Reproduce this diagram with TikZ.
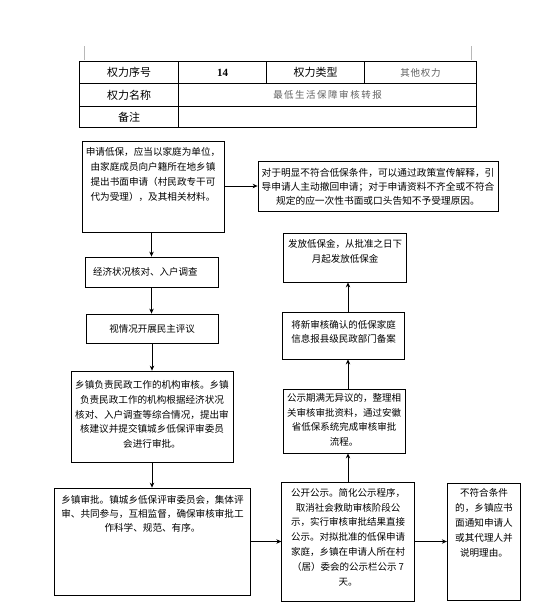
\documentclass[tikz,border=0pt]{standalone}
\usepackage{fontspec}
\usetikzlibrary{arrows.meta}
\newfontfamily\cjk{Noto Sans CJK SC}
\newfontfamily\tnr{Liberation Serif}
\begin{document}
\begin{tikzpicture}[x=1pt,y=-1pt,
  box/.style={draw=black, line width=0.8pt, fill=white, inner sep=0pt, rectangle},
  txt/.style={font=\cjk\fontsize{9.5}{14.5}\selectfont, align=center, inner sep=0pt, text=black},
  arr/.style={-{Stealth[length=5pt,width=4.5pt]}, line width=0.8pt},
  tl/.style={font=\cjk\fontsize{11}{13}\selectfont, inner sep=0pt},
  tg/.style={font=\cjk\fontsize{9.5}{12}\selectfont, inner sep=0pt, text=black!62},
  cornermark/.style={draw=black!28, line width=0.8pt}
]
\useasboundingbox (0,0) rectangle (551,616);
\fill[white] (0,0) rectangle (551,616);

% page corner marks
\coordinate (m1a) at (84,46); \coordinate (m1b) at (84,60);
\coordinate (m2a) at (471.5,46); \coordinate (m2b) at (471.5,60);
\draw[cornermark] (m1a) -- (m1b);
\draw[cornermark] (m2a) -- (m2b);

% table
\draw[line width=0.9pt] (79.5,61) rectangle (476.5,127.5);
\draw[line width=0.9pt] (79.5,83.5) -- (476.5,83.5);
\draw[line width=0.9pt] (79.5,106) -- (476.5,106);
\draw[line width=0.9pt] (178.5,61) -- (178.5,127.5);
\draw[line width=0.9pt] (266.5,61) -- (266.5,83.5);
\draw[line width=0.9pt] (364.5,61) -- (364.5,83.5);
\node[tl] (t11) at (129,72.5) {权力序号};
\node[inner sep=0pt, font=\tnr\bfseries\fontsize{11}{13}\selectfont] (t12) at (222.5,72.5) {14};
\node[tl] (t13) at (315.5,72.5) {权力类型};
\node[tg] (t14) at (420.5,72.5) {其\hspace{0.8pt}他\hspace{0.8pt}权\hspace{0.8pt}力};
\node[tl] (t21) at (129,95) {权力名称};
\node[tg] (t22) at (327.5,95) {最\hspace{1.5pt}低\hspace{1.5pt}生\hspace{1.5pt}活\hspace{1.5pt}保\hspace{1.5pt}障\hspace{1.5pt}审\hspace{1.5pt}核\hspace{1.5pt}转\hspace{1.5pt}报};
\node[tl] (t31) at (129,117) {备注};

% left column
\node[box, minimum width=142pt, minimum height=91pt] (b1) at (153,186.5) {};
\node[txt, font=\cjk\fontsize{9.6}{15}\selectfont] (b1t) at (153,174.5) {申请低保，应当以家庭为单位，\\由家庭成员向户籍所在地乡镇\\提出书面申请（村民政专干可\\代为受理），及其相关材料。};

\node[box, minimum width=240pt, minimum height=50pt] (b2) at (378,186) {};
\node[txt, font=\cjk\fontsize{9.7}{14}\selectfont] (b2t) at (378,187) {对于明显不符合低保条件，可以通过政策宣传解释，引\\导申请人主动撤回申请；对于申请资料不齐全或不符合\\规定的应一次性书面或口头告知不予受理原因。};

\node[box, minimum width=133pt, minimum height=30pt] (b3) at (151.5,272) {};
\node[txt, anchor=west] (b3t) at (93,272) {经济状况核对、入户调查};

\node[box, minimum width=132pt, minimum height=29pt] (b4) at (152,328.5) {};
\node[txt] (b4t) at (152,329) {视情况开展民主评议};

\node[box, minimum width=162pt, minimum height=91pt] (b5) at (152,416.5) {};
\node[txt, font=\cjk\fontsize{9.6}{14.6}\selectfont] (b5t) at (152,414.5) {乡镇负责民政工作的机构审核。乡镇\\负责民政工作的机构根据经济状况\\核对、入户调查等综合情况，提出审\\核建议并提交镇城乡低保评审委员\\会进行审批。};

\node[box, minimum width=196pt, minimum height=107pt] (b6) at (152.2,541.5) {};
\node[txt, font=\cjk\fontsize{9.6}{14}\selectfont] (b6t) at (152.5,514) {乡镇审批。镇城乡低保评审委员会，集体评\\审、共同参与，互相监督，确保审核审批工\\作科学、规范、有序。};

% middle column
\node[box, minimum width=132.5pt, minimum height=119pt] (b7) at (348,541.5) {};
\node[txt, font=\cjk\fontsize{9.5}{14.8}\selectfont] (b7t) at (348,537) {公开公示。简化公示程序，\\取消社会救助审核阶段公\\示，实行审核审批结果直接\\公示。对拟批准的低保申请\\家庭，乡镇在申请人所在村\\（居）委会的公示栏公示 7\\天。};

\node[box, minimum width=122pt, minimum height=64pt] (b9) at (344,421) {};
\node[txt] (b9t) at (344,420) {公示期满无异议的，整理相\\关审核审批资料，通过安徽\\省低保系统完成审核审批\\流程。};

\node[box, minimum width=122pt, minimum height=47pt] (b10) at (343.5,335.5) {};
\node[txt, font=\cjk\fontsize{9.5}{13.5}\selectfont] (b10t) at (343.5,332) {将新审核确认的低保家庭\\信息报县级民政部门备案};

\node[box, minimum width=123pt, minimum height=49pt] (b11) at (344.5,257.5) {};
\node[txt] (b11t) at (345,251.5) {发放低保金，从批准之日下\\月起发放低保金};

% right column
\node[box, minimum width=73.5pt, minimum height=117pt] (b8) at (484,541.5) {};
\node[txt, font=\cjk\fontsize{9.6}{15}\selectfont] (b8t) at (484,523) {不符合条件\\的，乡镇应书\\面通知申请人\\或其代理人并\\说明理由。};

% connectors
\draw[arr] (b2.west -| b1.east) -- (b2.west);
\draw[arr] (b3.north |- b1.south) -- (b3.north);
\draw[arr] (b3.south) -- (b3.south |- b4.north);
\draw[arr] (b4.south) -- (b4.south |- b5.north);
\draw[arr] (b5.south) -- (b5.south |- b6.north);
\draw[arr] (b6.east) -- (b6.east -| b7.west);
\draw[arr] (b7.east) -- (b7.east -| b8.west);
\draw[arr] (b7.north) -- (b7.north |- b9.south);
\draw[arr] (b7.north |- b9.north) -- (b7.north |- b10.south);
\draw[arr] (b7.north |- b10.north) -- (b7.north |- b11.south);
\end{tikzpicture}
\end{document}
